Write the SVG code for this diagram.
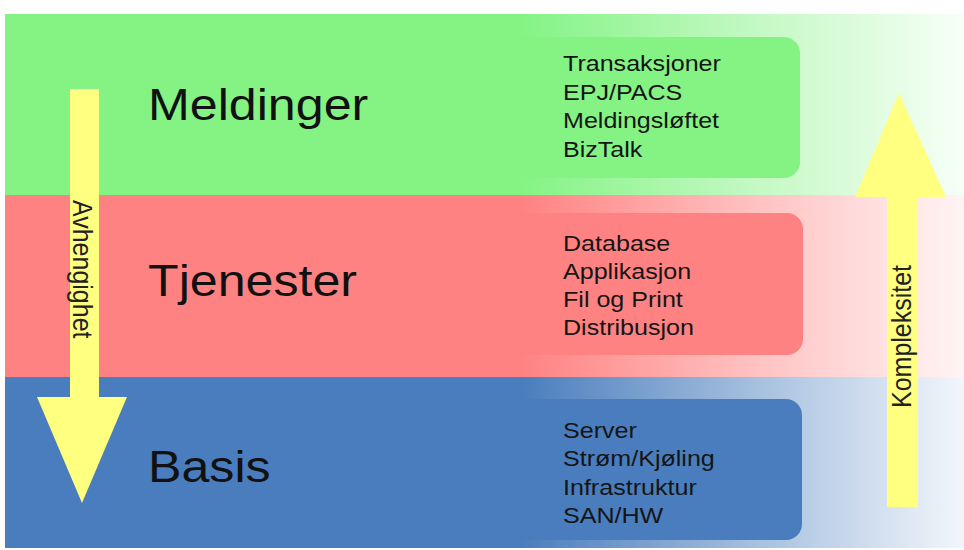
<svg xmlns="http://www.w3.org/2000/svg" width="964" height="550" viewBox="0 0 964 550">
<defs>
<linearGradient id="gG" gradientUnits="userSpaceOnUse" x1="520" y1="0" x2="964" y2="0">
<stop offset="0" stop-color="#84f384"/><stop offset="0.55" stop-color="#c6f9c6"/><stop offset="1" stop-color="#f6fff6"/>
</linearGradient>
<linearGradient id="gR" gradientUnits="userSpaceOnUse" x1="520" y1="0" x2="964" y2="0">
<stop offset="0" stop-color="#ff8282"/><stop offset="0.55" stop-color="#ffc4c4"/><stop offset="1" stop-color="#fff4f4"/>
</linearGradient>
<linearGradient id="gB" gradientUnits="userSpaceOnUse" x1="520" y1="0" x2="964" y2="0">
<stop offset="0" stop-color="#4a7dbd"/><stop offset="0.55" stop-color="#a9c2e0"/><stop offset="1" stop-color="#f2f6fb"/>
</linearGradient>
<style>
.big{font-family:"Liberation Sans",Arial,sans-serif;font-size:44px;fill:#111}
.lst{font-family:"Liberation Sans",Arial,sans-serif;font-size:22px;fill:#151515}
.ax{font-family:"Liberation Sans",Arial,sans-serif;font-size:25px;fill:#222}
.arrow{fill:#ffff80}
</style>
</defs>
<rect width="964" height="550" fill="#ffffff"/>
<g id="meldinger">
<rect x="5" y="14" width="959" height="181" fill="url(#gG)"/>
<rect x="500" y="37" width="300" height="141" rx="16" fill="#84f384"/>
<text class="big" transform="translate(148 120) scale(1.14 1)">Meldinger</text>
<text class="lst" transform="translate(563 71) scale(1.14 1)">Transaksjoner</text>
<text class="lst" transform="translate(563 100) scale(1.14 1)">EPJ/PACS</text>
<text class="lst" transform="translate(563 128) scale(1.14 1)">Meldingsløftet</text>
<text class="lst" transform="translate(563 157) scale(1.14 1)">BizTalk</text>
</g>
<g id="tjenester">
<rect x="5" y="195" width="959" height="182" fill="url(#gR)"/>
<rect x="500" y="213" width="303" height="142" rx="16" fill="#ff8282"/>
<text class="big" transform="translate(148 296) scale(1.14 1)">Tjenester</text>
<text class="lst" transform="translate(563 251) scale(1.14 1)">Database</text>
<text class="lst" transform="translate(563 279) scale(1.14 1)">Applikasjon</text>
<text class="lst" transform="translate(563 307) scale(1.14 1)">Fil og Print</text>
<text class="lst" transform="translate(563 335) scale(1.14 1)">Distribusjon</text>
</g>
<g id="basis">
<rect x="5" y="377" width="959" height="171" fill="url(#gB)"/>
<rect x="500" y="399" width="302" height="141" rx="16" fill="#4a7dbd"/>
<text class="big" transform="translate(148 482) scale(1.14 1)">Basis</text>
<text class="lst" transform="translate(563 438) scale(1.14 1)">Server</text>
<text class="lst" transform="translate(563 466) scale(1.14 1)">Strøm/Kjøling</text>
<text class="lst" transform="translate(563 495) scale(1.14 1)">Infrastruktur</text>
<text class="lst" transform="translate(563 523) scale(1.14 1)">SAN/HW</text>
</g>
<g id="connectors">
<g id="avhengighet">
<polygon class="arrow" points="70,89 99,89 99,397 127,397 82,503 37,397 70,397"/>
<text class="ax" transform="translate(73 200) scale(1.14 1) rotate(90)">Avhengighet</text>
</g>
<g id="kompleksitet">
<polygon class="arrow" points="887,507 918,507 918,197 946,197 899,93 855,197 887,197"/>
<text class="ax" transform="translate(911 408) scale(1.14 1) rotate(-90)">Kompleksitet</text>
</g>
</g>
</svg>
